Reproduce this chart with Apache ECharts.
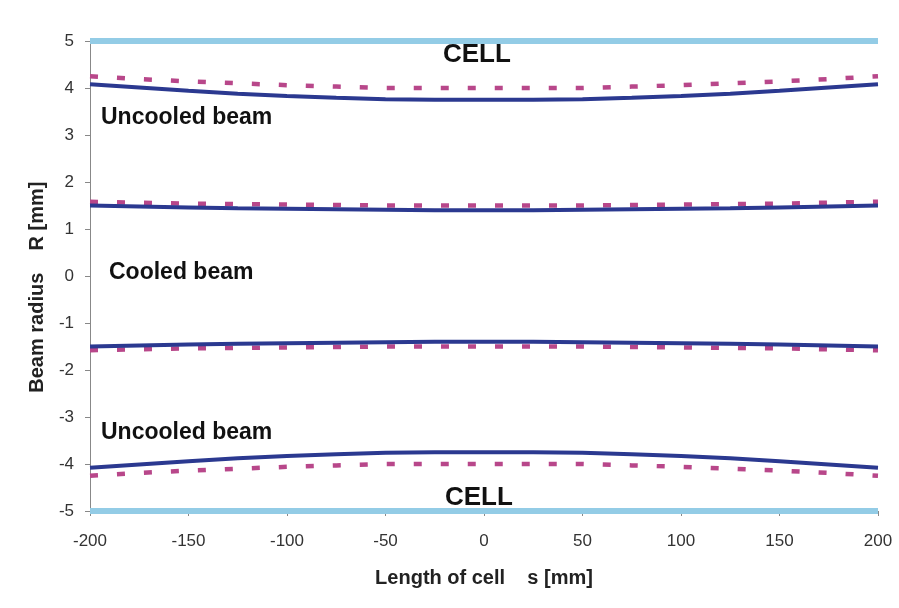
<!DOCTYPE html>
<html>
<head>
<meta charset="utf-8">
<script src="https://cdn.jsdelivr.net/npm/echarts@6/dist/echarts.min.js"></script>
<style>
html,body{margin:0;padding:0;background:#fff;}
#chartBox{width:899px;height:608px;}
</style>
</head>
<body>
<div id="chartBox"></div>
<script>
// positions along the cell, s [mm]
var sPos = [-200,-175,-150,-125,-100,-75,-50,-25,0,25,50,75,100,125,150,175,200];

// uncooled beam, upper envelope
var uncooledSolid = [4.08,4.01,3.94,3.88,3.83,3.79,3.76,3.75,3.75,3.75,3.76,3.79,3.83,3.88,3.94,4.01,4.08];
var uncooledDash  = [4.25,4.19,4.14,4.10,4.06,4.03,4.00,4.00,4.00,4.00,4.00,4.03,4.06,4.10,4.14,4.19,4.25];
// cooled beam, upper envelope
var cooledSolid = [1.50,1.48,1.46,1.44,1.43,1.42,1.41,1.40,1.40,1.40,1.41,1.42,1.43,1.44,1.46,1.48,1.50];
var cooledDash  = [1.58,1.56,1.54,1.53,1.52,1.51,1.50,1.50,1.50,1.50,1.50,1.51,1.52,1.53,1.54,1.56,1.58];

var cellEdge = [-200,200];
var cellR = 5;

function pairs(xs,ys,sign){
	var out=[];
	for(var i=0;i<xs.length;i++){
		out.push([xs[i],sign*ys[i]]);
	}
	return out;
}

var solidColor='#2b3990';
var dashColor='#b8478a';
var cellColor='#93cce6';

function solid(data){
	return {type:'line',data:data,symbol:'none',
		lineStyle:{color:solidColor,width:4},z:3};
}
function dashed(data){
	return {type:'line',data:data,symbol:'none',
		lineStyle:{color:dashColor,width:4.5,type:[8,19]},z:2};
}
function cell(sign){
	return {type:'line',data:[[cellEdge[0],sign*cellR],[cellEdge[1],sign*cellR]],symbol:'none',
		lineStyle:{color:cellColor,width:6},z:1};
}

var myChart = echarts.init(document.getElementById('chartBox'));
var labelFont='"Liberation Sans", Arial, sans-serif';
var option = {
	animation:false,
	backgroundColor:'#fff',
	grid:{left:90,right:21,top:41,bottom:97,containLabel:false},
	xAxis:{
		type:'value',min:-200,max:200,interval:50,
		name:'Length of cell    s [mm]',nameLocation:'middle',nameGap:57,
		nameTextStyle:{fontFamily:labelFont,fontWeight:'bold',fontSize:20,color:'#222'},
		axisLine:{onZero:false,lineStyle:{color:'#888',width:1}},
		axisTick:{show:true,length:5,lineStyle:{color:'#888'}},
		axisLabel:{fontFamily:labelFont,fontSize:17,color:'#333',margin:22},
		splitLine:{show:false}
	},
	yAxis:{
		type:'value',min:-5,max:5,interval:1,
		name:'Beam radius    R [mm]    ',nameLocation:'middle',nameGap:41,
		nameTextStyle:{fontFamily:labelFont,fontWeight:'bold',fontSize:20,color:'#222'},
		axisLine:{onZero:false,lineStyle:{color:'#888',width:1}},
		axisTick:{show:true,length:5,lineStyle:{color:'#888'}},
		axisLabel:{fontFamily:labelFont,fontSize:17,color:'#333',margin:16},
		splitLine:{show:false}
	},
	series:[
		cell(1),cell(-1),
		dashed(pairs(sPos,uncooledDash,1)),
		dashed(pairs(sPos,cooledDash,1)),
		dashed(pairs(sPos,cooledDash,-1)),
		dashed(pairs(sPos,uncooledDash,-1)),
		solid(pairs(sPos,uncooledSolid,1)),
		solid(pairs(sPos,cooledSolid,1)),
		solid(pairs(sPos,cooledSolid,-1)),
		solid(pairs(sPos,uncooledSolid,-1))
	],
	graphic:[
		{type:'text',left:443,top:42,style:{text:'CELL',font:'bold 26px '+labelFont,fill:'#111'}},
		{type:'text',left:101,top:106,style:{text:'Uncooled beam',font:'bold 23px '+labelFont,fill:'#111'}},
		{type:'text',left:109,top:261,style:{text:'Cooled beam',font:'bold 23px '+labelFont,fill:'#111'}},
		{type:'text',left:101,top:421,style:{text:'Uncooled beam',font:'bold 23px '+labelFont,fill:'#111'}},
		{type:'text',left:445,top:485,style:{text:'CELL',font:'bold 26px '+labelFont,fill:'#111'}}
	]
};
myChart.setOption(option);
</script>
</body>
</html>
